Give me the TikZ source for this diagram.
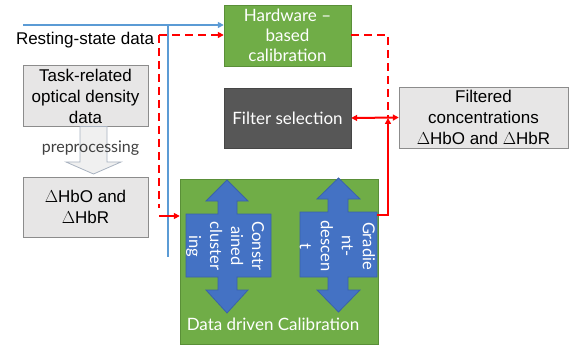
\documentclass[tikz,border=0pt]{standalone}
\usepackage{fontspec}
\setmainfont{Liberation Sans}
\newfontfamily\pptfont{Lato}
\usetikzlibrary{arrows.meta}

\definecolor{hwgreen}{HTML}{70AD47}
\definecolor{greenedge}{HTML}{5A8F38}
\definecolor{darkbox}{HTML}{575757}
\definecolor{boxgrey}{HTML}{E7E6E6}
\definecolor{boxedge}{HTML}{8C8C8C}
\definecolor{calblue}{HTML}{4472C4}
\definecolor{calblueedge}{HTML}{3A62AA}
\definecolor{restblue}{HTML}{5B9BD5}
\definecolor{prepedge}{HTML}{A8B2C0}

\tikzset{
  greybox/.style={draw=boxedge, fill=boxgrey, inner sep=0pt, align=center,
    font=\fontsize{17}{21}\selectfont},
  greenbox/.style={draw=greenedge, fill=hwgreen, text=white, inner sep=0pt,
    align=center, font=\pptfont\fontsize{17}{20}\selectfont},
  darkbox/.style={draw=darkbox!80!black, fill=darkbox, text=white, inner sep=0pt,
    align=center, font=\pptfont\fontsize{17}{20}\selectfont},
  callout/.style={draw=calblueedge, fill=calblue, line width=0.8pt},
  callouttext/.style={rotate=-90, text=white, align=center, inner sep=0pt,
    font=\pptfont\fontsize{16.5}{21}\selectfont},
  blueline/.style={draw=restblue, line width=1.6pt},
  redline/.style={draw=red, line width=2pt},
  reddash/.style={redline, dash pattern=on 8pt off 5pt},
  >={Triangle[length=6pt,width=6pt]}
}

\begin{document}
\begin{tikzpicture}[x=1pt,y=-1pt]
  \useasboundingbox (0,0) rectangle (582,345);

  % boxes
  \node[greenbox, minimum width=127, minimum height=61] (hardware) at (287.5,35.5)
    {Hardware –\\based\\calibration};
  \node[darkbox, minimum width=127, minimum height=60] (filtsel) at (287.5,118)
    {Filter selection};
  \node[greybox, minimum width=169, minimum height=61] (filtered) at (483.5,117.5)
    {Filtered\\concentrations\\$\Delta$HbO and $\Delta$HbR};
  \node[greybox, minimum width=125, minimum height=61] (task) at (85.5,96)
    {Task-related\\optical density\\data};
  \node[greybox, minimum width=125, minimum height=60] (dhb) at (85.5,207)
    {$\Delta$HbO and\\$\Delta$HbR};
  \node[font=\fontsize{17}{21}\selectfont, inner sep=0pt] (rest) at (85,40) {Resting-state data};

  % preprocessing arrow
  \draw[draw=prepedge, fill=gray!12, line width=0.8pt]
    (80,126.5) -- (107,126.5) -- (107,162) -- (121,162) -- (93.5,174)
    -- (66,162) -- (80,162) -- cycle;
  \node[text=black!75, font=\pptfont\fontsize{16}{19}\selectfont, inner sep=0pt] (prep)
    at (90.5,148) {preprocessing};

  % data driven calibration
  \node[draw=greenedge, fill=hwgreen, minimum width=198, minimum height=165,
    inner sep=0pt] (datadriven) at (279,261.5) {};
  \draw[callout] (227,180) -- (248,201) -- (237,201) -- (237,214) -- (271,214)
    -- (271,277) -- (237,277) -- (237,290) -- (248,290) -- (227,313) -- (206,290)
    -- (218,290) -- (218,277) -- (186,277) -- (186,214) -- (218,214) -- (218,201)
    -- (206,201) -- cycle;
  \draw[callout] (338.5,178) -- (360,199) -- (348,199) -- (348,212) -- (377,212)
    -- (377,277) -- (348,277) -- (348,290) -- (360,290) -- (338.5,312) -- (317,290)
    -- (328,290) -- (328,277) -- (300,277) -- (300,212) -- (328,212) -- (328,199)
    -- (317,199) -- cycle;
  \node[callouttext] (cons) at (225,246) {Constr\\ained\\cluster\\ing};
  \node[callouttext] (grad) at (337.5,246) {Gradie\\nt-\\descen\\t};
  \node[text=white, font=\pptfont\fontsize{17}{20}\selectfont, inner sep=0pt]
    (ddlabel) at (273,324) {Data driven Calibration};

  % resting-state data lines
  \coordinate (bstart) at (23,25);
  \coordinate (bjoin) at (168,25);
  \coordinate (bend) at (168,257);
  \draw[blueline, ->] (bstart) -- (bstart -| hardware.west);
  \draw[blueline] (bjoin) -- (bend);

  % red paths
  \coordinate (rsplit) at (159,35);
  \coordinate (rturn) at (159,216);
  \coordinate (rjoin) at (388,118);
  \coordinate (gradout) at (377,215);
  \draw[reddash, ->] (rsplit) -- (rsplit -| hardware.west);
  \draw[reddash] (rsplit) -- (159,208);
  \draw[redline, ->] (rturn) -- (rturn -| datadriven.west);
  \draw[reddash] (hardware.east |- rsplit) -| (rjoin);
  \draw[redline, ->] (gradout) -| (rjoin);
  \draw[redline, <->] (filtsel.east) -- (filtered.west);
\end{tikzpicture}
\end{document}
